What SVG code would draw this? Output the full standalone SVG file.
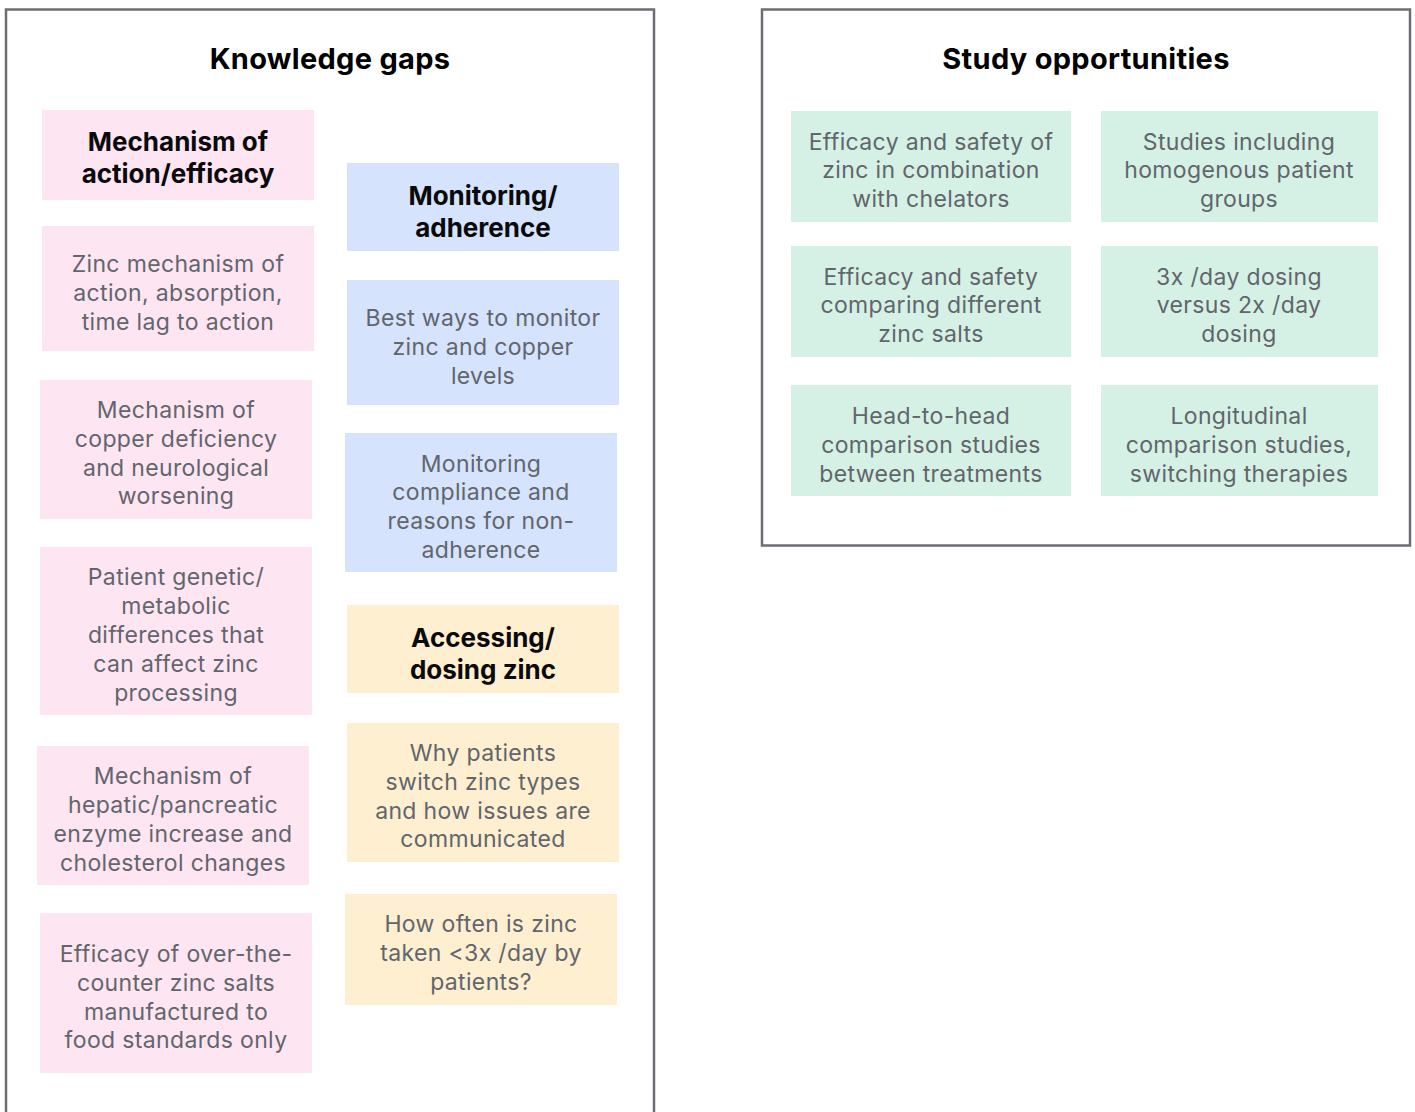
<svg xmlns="http://www.w3.org/2000/svg" width="1415" height="1112" viewBox="0 0 1415 1112">
  <style>
    .frame { fill: #ffffff; stroke: #6c6e76; stroke-width: 2.5; }
    .title { font-family: Inter, "Liberation Sans", sans-serif; font-size: 29px; font-weight: 700; fill: #000000; text-anchor: middle; letter-spacing: 0.3px; }
    .head { font-family: Inter, "Liberation Sans", sans-serif; font-size: 26px; font-weight: 700; fill: #0a0a0a; text-anchor: middle; }
    .body { font-family: Inter, "Liberation Sans", sans-serif; font-size: 23px; fill: #62656c; text-anchor: middle; letter-spacing: 0.35px; }
    .pink { fill: #fde5f2; }
    .blue { fill: #d5e3fc; }
    .yellow { fill: #feefd0; }
    .green { fill: #d5f1e5; }
  </style>

  <!-- panel frames -->
  <rect class="frame" x="6" y="9.5" width="648" height="1130"/>
  <rect class="frame" x="762" y="9.5" width="648" height="536"/>

  <text class="title" x="330" y="69">Knowledge gaps</text>
  <text class="title" x="1086" y="69">Study opportunities</text>

  <!-- Knowledge gaps: mechanism column -->
  <g id="mechanism-header">
    <rect class="pink" x="42" y="110" width="272" height="90"/>
    <text class="head" x="178"><tspan x="178" y="151">Mechanism of</tspan><tspan x="178" y="183">action/efficacy</tspan></text>
  </g>
  <g id="zinc-mechanism">
    <rect class="pink" x="42" y="226" width="272" height="125"/>
    <text class="body"><tspan x="178" y="272">Zinc mechanism of</tspan><tspan x="178" y="301">action, absorption,</tspan><tspan x="178" y="330">time lag to action</tspan></text>
  </g>
  <g id="copper-deficiency">
    <rect class="pink" x="40" y="380" width="272" height="139"/>
    <text class="body"><tspan x="176" y="418">Mechanism of</tspan><tspan x="176" y="447">copper deficiency</tspan><tspan x="176" y="476">and neurological</tspan><tspan x="176" y="504">worsening</tspan></text>
  </g>
  <g id="patient-differences">
    <rect class="pink" x="40" y="547" width="272" height="168"/>
    <text class="body"><tspan x="176" y="585">Patient genetic/</tspan><tspan x="176" y="614">metabolic</tspan><tspan x="176" y="643">differences that</tspan><tspan x="176" y="672">can affect zinc</tspan><tspan x="176" y="701">processing</tspan></text>
  </g>
  <g id="enzyme-increase">
    <rect class="pink" x="37" y="746" width="272" height="139"/>
    <text class="body"><tspan x="173" y="784">Mechanism of</tspan><tspan x="173" y="813">hepatic/pancreatic</tspan><tspan x="173" y="842">enzyme increase and</tspan><tspan x="173" y="871">cholesterol changes</tspan></text>
  </g>
  <g id="otc-zinc-salts">
    <rect class="pink" x="40" y="913" width="272" height="160"/>
    <text class="body"><tspan x="176" y="962">Efficacy of over-the-</tspan><tspan x="176" y="991">counter zinc salts</tspan><tspan x="176" y="1020">manufactured to</tspan><tspan x="176" y="1048">food standards only</tspan></text>
  </g>

  <!-- Knowledge gaps: monitoring and dosing column -->
  <g id="monitoring-header">
    <rect class="blue" x="347" y="163" width="272" height="88"/>
    <text class="head"><tspan x="483" y="205">Monitoring/</tspan><tspan x="483" y="237">adherence</tspan></text>
  </g>
  <g id="monitor-levels">
    <rect class="blue" x="347" y="280" width="272" height="125"/>
    <text class="body"><tspan x="483" y="326">Best ways to monitor</tspan><tspan x="483" y="355">zinc and copper</tspan><tspan x="483" y="384">levels</tspan></text>
  </g>
  <g id="compliance">
    <rect class="blue" x="345" y="433" width="272" height="139"/>
    <text class="body"><tspan x="481" y="472">Monitoring</tspan><tspan x="481" y="500">compliance and</tspan><tspan x="481" y="529">reasons for non-</tspan><tspan x="481" y="558">adherence</tspan></text>
  </g>
  <g id="dosing-header">
    <rect class="yellow" x="347" y="605" width="272" height="88"/>
    <text class="head"><tspan x="483" y="647">Accessing/</tspan><tspan x="483" y="679">dosing zinc</tspan></text>
  </g>
  <g id="switch-zinc">
    <rect class="yellow" x="347" y="723" width="272" height="139"/>
    <text class="body"><tspan x="483" y="761">Why patients</tspan><tspan x="483" y="790">switch zinc types</tspan><tspan x="483" y="819">and how issues are</tspan><tspan x="483" y="847">communicated</tspan></text>
  </g>
  <g id="dosing-frequency">
    <rect class="yellow" x="345" y="894" width="272" height="111"/>
    <text class="body"><tspan x="481" y="932">How often is zinc</tspan><tspan x="481" y="961">taken &lt;3x /day by</tspan><tspan x="481" y="990">patients?</tspan></text>
  </g>

  <!-- Study opportunities grid -->
  <g id="chelators">
    <rect class="green" x="791" y="111" width="280" height="111"/>
    <text class="body"><tspan x="931" y="150">Efficacy and safety of</tspan><tspan x="931" y="178">zinc in combination</tspan><tspan x="931" y="207">with chelators</tspan></text>
  </g>
  <g id="homogenous-groups">
    <rect class="green" x="1101" y="111" width="277" height="111"/>
    <text class="body"><tspan x="1239" y="150">Studies including</tspan><tspan x="1239" y="178">homogenous patient</tspan><tspan x="1239" y="207">groups</tspan></text>
  </g>
  <g id="zinc-salts">
    <rect class="green" x="791" y="246" width="280" height="111"/>
    <text class="body"><tspan x="931" y="285">Efficacy and safety</tspan><tspan x="931" y="313">comparing different</tspan><tspan x="931" y="342">zinc salts</tspan></text>
  </g>
  <g id="dosing-comparison">
    <rect class="green" x="1101" y="246" width="277" height="111"/>
    <text class="body"><tspan x="1239" y="285">3x /day dosing</tspan><tspan x="1239" y="313">versus 2x /day</tspan><tspan x="1239" y="342">dosing</tspan></text>
  </g>
  <g id="head-to-head">
    <rect class="green" x="791" y="385" width="280" height="111"/>
    <text class="body"><tspan x="931" y="424">Head-to-head</tspan><tspan x="931" y="453">comparison studies</tspan><tspan x="931" y="482">between treatments</tspan></text>
  </g>
  <g id="longitudinal">
    <rect class="green" x="1101" y="385" width="277" height="111"/>
    <text class="body"><tspan x="1239" y="424">Longitudinal</tspan><tspan x="1239" y="453">comparison studies,</tspan><tspan x="1239" y="482">switching therapies</tspan></text>
  </g>

  <!-- no connectors in this layout -->
  <g id="connectors"/>
</svg>
